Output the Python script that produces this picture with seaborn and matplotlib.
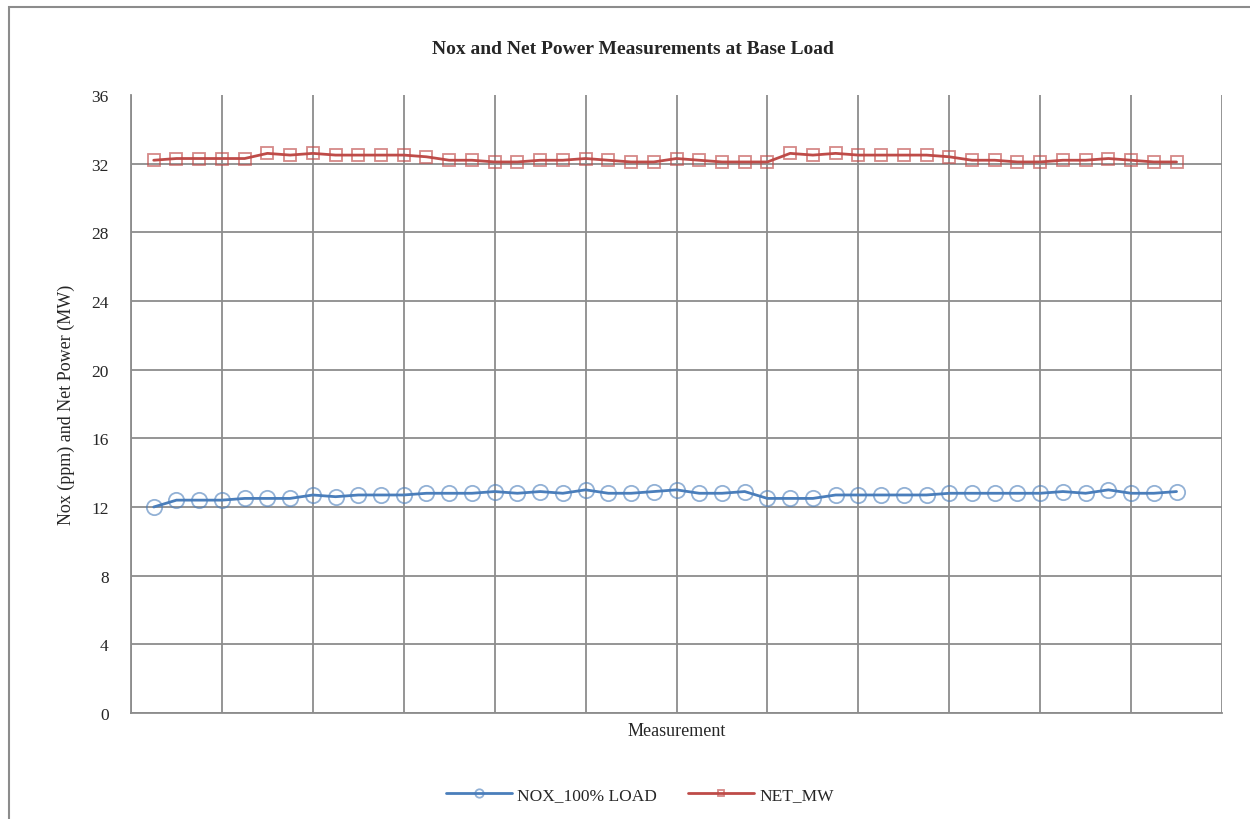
import pandas as pd
import numpy as np
import matplotlib
matplotlib.use("Agg")
import matplotlib.pyplot as plt
import seaborn as sns
from matplotlib.patches import Rectangle

measurement = list(range(1, 47))
nox_100_load = [12.0, 12.4, 12.4, 12.4, 12.5, 12.5, 12.5, 12.7, 12.6, 12.7,
                12.7, 12.7, 12.8, 12.8, 12.8, 12.9, 12.8, 12.9, 12.8, 13.0,
                12.8, 12.8, 12.9, 13.0, 12.8, 12.8, 12.9, 12.5, 12.5, 12.5,
                12.7, 12.7, 12.7, 12.7, 12.7, 12.8, 12.8, 12.8, 12.8, 12.8,
                12.9, 12.8, 13.0, 12.8, 12.8, 12.9]
net_mw = [32.2, 32.3, 32.3, 32.3, 32.3, 32.6, 32.5, 32.6, 32.5, 32.5,
          32.5, 32.5, 32.4, 32.2, 32.2, 32.1, 32.1, 32.2, 32.2, 32.3,
          32.2, 32.1, 32.1, 32.3, 32.2, 32.1, 32.1, 32.1, 32.6, 32.5,
          32.6, 32.5, 32.5, 32.5, 32.5, 32.4, 32.2, 32.2, 32.1, 32.1,
          32.2, 32.2, 32.3, 32.2, 32.1, 32.1]
series_names = ["NOX_100% LOAD", "NET_MW"]
y_ticks = list(range(0, 37, 4))

df = pd.DataFrame({"Measurement": measurement,
                   series_names[0]: nox_100_load,
                   series_names[1]: net_mw})

sns.set_style("white")
plt.rcParams["font.family"] = ["Liberation Serif", "DejaVu Serif"]

fig = plt.figure(figsize=(12.5, 8.2), dpi=100)
ax = fig.add_axes([131 / 1250, 1 - 714 / 820, (1222 - 131) / 1250, (714 - 96) / 820])

blue = "#4a7ebb"
red = "#be4b48"

sns.lineplot(data=df, x="Measurement", y=series_names[0], ax=ax, color=blue,
             linewidth=2.0, marker="o", markersize=11, markerfacecolor="none",
             markeredgecolor=(0.29, 0.49, 0.73, 0.6), markeredgewidth=1.3,
             label=series_names[0])
sns.lineplot(data=df, x="Measurement", y=series_names[1], ax=ax, color=red,
             linewidth=2.0, marker="s", markersize=9, markerfacecolor="none",
             markeredgecolor=(0.75, 0.29, 0.28, 0.65), markeredgewidth=1.3,
             label=series_names[1])

ax.set_xlim(0, 48)
ax.set_ylim(0, 36)
ax.set_xticks(range(0, 49, 4))
ax.set_xticklabels([])
ax.set_yticks(y_ticks)
ax.set_yticklabels([str(t) for t in y_ticks], fontsize=12.5)
ax.tick_params(axis="both", length=0)
ax.tick_params(axis="y", pad=16)

ax.grid(True, color="#8c8c8c", linewidth=1.3)
ax.set_axisbelow(True)
ax.yaxis.get_gridlines()[-1].set_visible(False)
for side in ["top", "right"]:
    ax.spines[side].set_visible(False)
for side in ["left", "bottom"]:
    ax.spines[side].set_color("#8c8c8c")
    ax.spines[side].set_linewidth(1.3)

ax.set_xlabel("Measurement", fontsize=13, labelpad=3)
ax.set_ylabel("Nox (ppm) and Net Power (MW)", fontsize=13, labelpad=12)
fig.text(0.506, 1 - 49 / 820, "Nox and Net Power Measurements at Base Load",
         ha="center", va="center", fontsize=14, fontweight="bold")

ax.legend(loc="lower center", bbox_to_anchor=(0.512, 0.0), bbox_transform=fig.transFigure,
          ncol=2, frameon=False, fontsize=12.5, handlelength=3.8, markerscale=0.55,
          columnspacing=1.8, handletextpad=0.3)

# outer chart border
fig.patches.append(Rectangle((9 / 1250, -0.01), 1.0, 1.0, transform=fig.transFigure,
                             fill=False, edgecolor="#8c8c8c", linewidth=1.5))

fig.savefig("out.png", dpi=100)
